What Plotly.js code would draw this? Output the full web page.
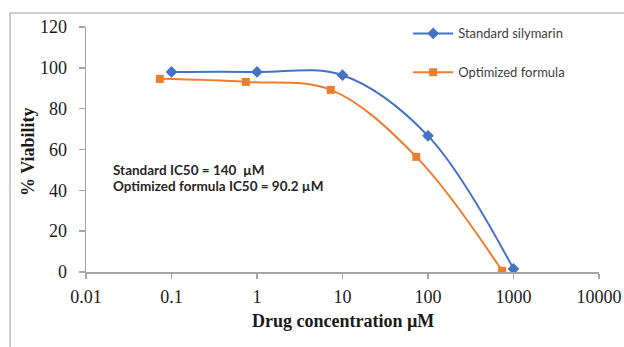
<!DOCTYPE html>
<html>
<head>
<meta charset="utf-8">
<script src="https://cdn.plot.ly/plotly-3.0.1.min.js"></script>
<style>html,body{margin:0;padding:0;background:#fff;}#chart{width:624px;height:347px;}</style>
</head>
<body>
<div id="chart"></div>
<script>
const seriesNames = ["Standard silymarin", "Optimized formula"];
const standardConc = [0.1, 1, 10, 100, 1000];
const standardViability = [98.0, 98.0, 96.4, 66.7, 1.5];
const optimizedConc = [0.073, 0.74, 7.3, 73, 735];
const optimizedViability = [94.6, 93.1, 89.2, 56.4, 0.6];
const xTickVals = [0.01, 0.1, 1, 10, 100, 1000, 10000];
const xTickText = ["0.01", "0.1", "1", "10", "100", "1000", "10000"];
const yTickVals = [0, 20, 40, 60, 80, 100, 120];
const xTitle = "Drug concentration µM";
const yTitle = "% Viability";
const annotationLines = ["Standard IC50 = 140  µM", "Optimized formula IC50 = 90.2 µM"];

const traces = [
  {
    x: standardConc, y: standardViability, name: seriesNames[0], legendgroup: "a",
    type: "scatter", mode: "lines+markers",
    line: {color: "#4472C4", width: 2, shape: "spline", smoothing: 1},
    marker: {symbol: "diamond", size: 9, color: "#4472C4"}
  },
  {
    x: optimizedConc, y: optimizedViability, name: seriesNames[1], legendgroup: "b",
    type: "scatter", mode: "lines+markers",
    line: {color: "#ED7D31", width: 2, shape: "spline", smoothing: 1},
    marker: {symbol: "square", size: 8, color: "#ED7D31"}
  }
];

const axisColor = "#a6a6a6";
const titleFont = {family: "Liberation Serif, serif", size: 18, color: "#1a1a1a", weight: "bold"};
const layout = {
  width: 624, height: 347,
  margin: {l: 86, r: 25, t: 27, b: 75},
  paper_bgcolor: "#ffffff", plot_bgcolor: "#ffffff",
  showlegend: true,
  legend: {
    x: 0.628, xanchor: "left", y: 1.035, yanchor: "top",
    font: {family: "Lato, sans-serif", size: 13, color: "#404040"},
    itemwidth: 40, tracegroupgap: 19, traceorder: "grouped",
    bgcolor: "rgba(0,0,0,0)"
  },
  xaxis: {
    type: "log", range: [-2, 4],
    tickvals: xTickVals, ticktext: xTickText,
    showgrid: false, zeroline: false,
    showline: true, linecolor: axisColor, linewidth: 1.5,
    ticks: "outside", ticklen: 5, tickcolor: axisColor, tickwidth: 1.5,
    ticklabelstandoff: 3,
    tickfont: {family: "Liberation Serif, serif", size: 18, color: "#1a1a1a"},
    automargin: false, fixedrange: true
  },
  yaxis: {
    range: [0, 120],
    tickvals: yTickVals,
    showgrid: false, zeroline: false,
    showline: true, linecolor: axisColor, linewidth: 1.5,
    ticks: "outside", ticklen: 6, tickcolor: axisColor, tickwidth: 1.5,
    ticklabelstandoff: 8,
    tickfont: {family: "Liberation Serif, serif", size: 18, color: "#1a1a1a"},
    automargin: false, fixedrange: true
  },
  annotations: [
    {xref: "paper", yref: "paper", x: 0.5, y: -0.2, xanchor: "center", yanchor: "middle",
     text: xTitle, showarrow: false, font: titleFont},
    {xref: "paper", yref: "paper", x: -0.113, y: 0.49, xanchor: "center", yanchor: "middle",
     textangle: -90, text: yTitle, showarrow: false, font: titleFont},
    {xref: "paper", yref: "paper", x: 0.049, y: 0.418, xanchor: "left", yanchor: "middle",
     text: annotationLines[0], showarrow: false,
     font: {family: "Lato, sans-serif", size: 13.5, color: "#262626", weight: "bold"}},
    {xref: "paper", yref: "paper", x: 0.049, y: 0.35, xanchor: "left", yanchor: "middle",
     text: annotationLines[1], showarrow: false,
     font: {family: "Lato, sans-serif", size: 13.5, color: "#262626", weight: "bold"}}
  ],
  shapes: [
    {type: "path", xref: "paper", yref: "paper",
     path: "M -0.148 -0.4 L -0.148 1.057 L 1.2 1.057",
     line: {color: "#bfbfbf", width: 1.5}}
  ]
};

Plotly.newPlot("chart", traces, layout, {displayModeBar: false, staticPlot: true});
</script>
</body>
</html>
